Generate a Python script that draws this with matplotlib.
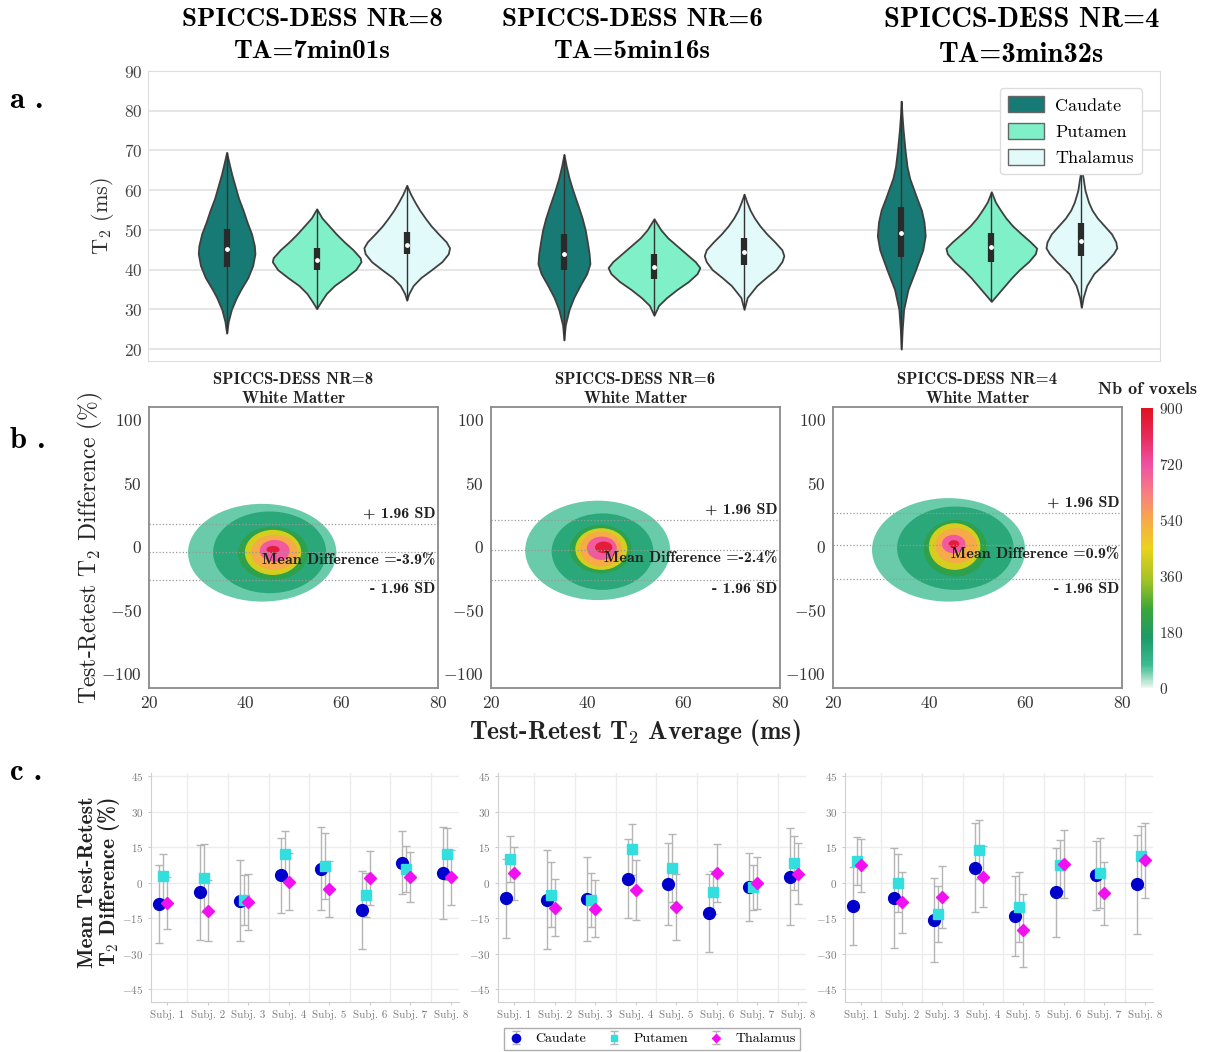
import numpy as np
import matplotlib
matplotlib.use("Agg")
import matplotlib.pyplot as plt
from matplotlib.colors import LinearSegmentedColormap, Normalize
from matplotlib.cm import ScalarMappable
from matplotlib.patches import Ellipse, Patch

plt.rcParams['font.family'] = 'cmr10'
plt.rcParams['mathtext.fontset'] = 'cm'
plt.rcParams['axes.formatter.use_mathtext'] = True
plt.rcParams['axes.unicode_minus'] = False

W, H = 1210, 1052

# ---------------- data ----------------
regions = ['Caudate', 'Putamen', 'Thalamus']
protocols = ['SPICCS-DESS NR=8', 'SPICCS-DESS NR=6', 'SPICCS-DESS NR=4']
acq_times = ['TA=7min01s', 'TA=5min16s', 'TA=3min32s']
region_colors = ['#187a74', '#80f0c8', '#e2fafa']

# violin outlines (T2 in ms, relative half width), one list per protocol NR8, NR6, NR4
caud_t2 = [[24, 27, 30, 33, 35, 38, 41, 44, 46, 49, 52, 55, 58, 61, 64, 67, 69.5],
           [22.3, 26, 30, 33, 36, 39, 41.5, 44, 47, 50, 53, 56, 60, 63, 66, 69],
           [20, 25, 30, 35, 40, 45, 48.5, 52, 55, 58, 60, 63, 66, 70, 75, 79, 82.4]]
caud_dens = [[0, 0.06, 0.17, 0.35, 0.5, 0.75, 0.92, 1.0, 0.98, 0.88, 0.72, 0.58, 0.42, 0.3, 0.18, 0.08, 0],
             [0, 0.05, 0.2, 0.38, 0.62, 0.88, 1.0, 0.97, 0.9, 0.82, 0.7, 0.55, 0.34, 0.2, 0.09, 0],
             [0, 0.04, 0.1, 0.28, 0.6, 0.9, 1.0, 0.95, 0.84, 0.65, 0.53, 0.35, 0.24, 0.16, 0.08, 0.03, 0]]
put_t2 = [[30.2, 32, 34, 36, 38, 40, 42, 43, 45, 47, 49, 51, 53, 55.3],
          [28.5, 31, 33, 35, 37, 39, 40.5, 42, 44, 46, 48, 50, 52.8],
          [32, 34, 36, 38, 40, 42, 44, 45.4, 47, 49, 51, 53, 55, 57, 59.6]]
put_dens = [[0, 0.1, 0.22, 0.4, 0.65, 0.88, 1.0, 0.98, 0.82, 0.62, 0.44, 0.28, 0.12, 0],
            [0, 0.1, 0.28, 0.5, 0.75, 0.94, 1.0, 0.9, 0.7, 0.5, 0.3, 0.15, 0],
            [0, 0.15, 0.3, 0.45, 0.62, 0.82, 0.97, 1.0, 0.86, 0.66, 0.47, 0.32, 0.2, 0.09, 0]]
thal_t2 = [[32.3, 34, 36, 38, 40, 42, 44, 45.5, 47, 49, 51, 53, 55, 57, 59, 61.2],
           [30, 33, 36, 38, 40, 42, 43.5, 45, 47, 49, 51, 53, 55, 57, 59],
           [30.5, 33, 36, 39, 42, 44, 45.5, 47, 49, 51, 53, 55, 57, 60, 63, 65.4]]
thal_dens = [[0, 0.05, 0.15, 0.33, 0.58, 0.82, 0.97, 1.0, 0.92, 0.74, 0.57, 0.43, 0.3, 0.19, 0.09, 0],
             [0, 0.08, 0.32, 0.55, 0.8, 0.95, 1.0, 0.95, 0.77, 0.57, 0.4, 0.26, 0.15, 0.07, 0],
             [0, 0.05, 0.15, 0.35, 0.7, 0.9, 1.0, 0.97, 0.85, 0.65, 0.45, 0.3, 0.2, 0.1, 0.05, 0]]
# (q1, median, q3)
caud_box = [(40.7, 45.3, 50.3), (40.0, 44.0, 49.0), (43.3, 49.2, 55.8)]
put_box = [(40.0, 42.5, 45.5), (37.7, 40.7, 44.0), (42.0, 45.7, 49.2)]
thal_box = [(44.0, 46.3, 49.5), (41.2, 44.4, 47.9), (43.4, 47.1, 51.8)]
caud_width = [0.168, 0.154, 0.142]
put_width = [0.263, 0.272, 0.269]
thal_width = [0.254, 0.236, 0.21]

# Bland-Altman lines (%)
ba_mean = [-3.9, -2.4, 0.9]
ba_hi = [17.8, 20.9, 26.7]
ba_lo = [-26.2, -26.2, -25.7]

# density blobs: voxel count level and (x_lo, x_hi, y_lo, y_hi) region above that level
blob_counts = [55, 125, 215, 420, 540, 700, 860]
nr8_blob = [(28.1, 58.9, -43.2, 33.5), (33.3, 56.8, -36.6, 27.5), (38.5, 53.0, -26.2, 15.7),
            (39.9, 51.6, -22.3, 13.1), (41.2, 50.9, -18.3, 9.2), (43.0, 49.2, -11.8, 5.2),
            (44.4, 47.1, -5.2, 0.5)]
nr6_blob = [(27.1, 57.2, -42.0, 36.0), (32.6, 53.7, -34.0, 26.0), (36.4, 49.2, -21.0, 17.0),
            (37.5, 48.3, -18.3, 14.4), (38.5, 47.2, -15.7, 11.8), (39.9, 46.1, -10.5, 7.8),
            (41.6, 45.2, -5.2, 3.9)]
nr4_blob = [(28.1, 59.9, -43.2, 38.0), (33.3, 57.5, -34.0, 31.4), (38.8, 52.0, -23.6, 20.9),
            (39.9, 50.6, -18.3, 18.3), (41.2, 49.9, -13.0, 14.4), (42.6, 47.5, -5.2, 9.2),
            (44.0, 46.2, -1.0, 5.0)]

# per subject mean test-retest difference (%) and SD
subjects = ['Subj. 1', 'Subj. 2', 'Subj. 3', 'Subj. 4', 'Subj. 5', 'Subj. 6', 'Subj. 7', 'Subj. 8']
nr8_caud_mean = [-9.1, -4.2, -7.6, 3.0, 5.9, -11.6, 8.4, 4.0]
nr8_caud_sd = [16.6, 20.2, 17.2, 15.7, 17.5, 16.3, 13.4, 19.5]
nr8_put_mean = [2.6, 1.8, -7.5, 12.0, 7.0, -5.4, 5.7, 11.9]
nr8_put_sd = [9.4, 14.4, 10.6, 9.8, 13.8, 9.3, 9.7, 11.0]
nr8_thal_mean = [-8.5, -12.0, -8.2, 0.3, -2.7, 2.0, 2.3, 2.2]
nr8_thal_sd = [11.0, 12.9, 12.0, 12.0, 11.9, 11.3, 10.7, 11.6]

nr6_caud_mean = [-6.7, -7.2, -7.0, 1.7, -0.6, -12.8, -1.8, 2.4]
nr6_caud_sd = [16.6, 21.0, 17.8, 16.7, 17.2, 16.4, 14.4, 20.5]
nr6_put_mean = [10.1, -5.1, -7.4, 14.0, 6.2, -4.1, -2.0, 8.1]
nr6_put_sd = [9.7, 13.6, 11.3, 10.9, 14.5, 9.0, 9.5, 11.4]
nr6_thal_mean = [3.9, -10.7, -11.0, -3.2, -10.4, 4.1, 0.0, 3.8]
nr6_thal_sd = [11.1, 12.0, 12.2, 12.8, 14.0, 12.3, 11.0, 12.8]

nr4_caud_mean = [-10.0, -6.5, -15.9, 6.2, -14.2, -4.1, 3.1, -0.8]
nr4_caud_sd = [16.6, 21.0, 17.9, 18.8, 16.9, 18.8, 14.6, 20.8]
nr4_put_mean = [9.0, -0.1, -13.2, 13.9, -10.4, 7.3, 4.1, 11.1]
nr4_put_sd = [10.2, 12.3, 11.9, 12.4, 14.9, 10.8, 14.8, 13.0]
nr4_thal_mean = [7.2, -8.4, -6.2, 2.4, -20.2, 7.9, -4.6, 9.4]
nr4_thal_sd = [11.2, 12.8, 13.1, 12.9, 15.3, 14.4, 13.3, 15.8]

cb_ticks = [0, 180, 360, 540, 720, 900]

# colormap of the voxel counts
cmap = LinearSegmentedColormap.from_list('voxels', [
    (0.0, '#eef7f3'), (0.03, '#a6e0c9'), (0.08, '#3dbb92'), (0.18, '#1d9a68'),
    (0.28, '#3aa63a'), (0.38, '#9ec224'), (0.5, '#ecd21c'), (0.6, '#f6aa48'),
    (0.7, '#f87c84'), (0.8, '#f050a4'), (0.9, '#e82a5c'), (1.0, '#e0121e')])
norm = Normalize(0, 900)

fig = plt.figure(figsize=(W / 100, H / 100), dpi=100)


def px_axes(left, top, right, bottom):
    return fig.add_axes([left / W, 1 - bottom / H, (right - left) / W, (bottom - top) / H])


def px_text(x, y, s, **kw):
    return fig.text(x / W, 1 - y / H, s, **kw)


# ---------------- a. violins ----------------
ax = px_axes(148, 71, 1160, 361)
offsets = [-0.267, 0, 0.267]
all_t2 = [caud_t2, put_t2, thal_t2]
all_dens = [caud_dens, put_dens, thal_dens]
all_box = [caud_box, put_box, thal_box]
all_width = [caud_width, put_width, thal_width]
for r in range(3):
    for p in range(3):
        pos = p + offsets[r]
        t2 = np.array(all_t2[r][p], dtype=float)
        q1, med, q3 = all_box[r][p]
        stats = dict(coords=t2, vals=np.array(all_dens[r][p], dtype=float),
                     mean=med, median=med, min=t2.min(), max=t2.max())
        parts = ax.violin([stats], positions=[pos], widths=[all_width[r][p]],
                          showmeans=False, showextrema=False, showmedians=False)
        for b in parts['bodies']:
            b.set_facecolor(region_colors[r])
            b.set_edgecolor('#404040')
            b.set_linewidth(1.3)
            b.set_alpha(1)
            b.set_zorder(2)
        ax.vlines(pos, t2.min(), t2.max(), color='#333333', lw=1, zorder=3)
        ax.vlines(pos, q1, q3, color='#2a2a2a', lw=4.5, zorder=3)
        ax.scatter([pos], [med], s=6, color='white', zorder=4)

ax.set_xlim(-0.5, 2.5)
ax.set_ylim(17, 90)
ax.set_yticks(range(20, 91, 10))
ax.set_xticks([])
ax.yaxis.grid(True, color='#e4e4e4', lw=1.3)
ax.set_axisbelow(True)
for s in ax.spines.values():
    s.set_color('#dddddd')
ax.tick_params(axis='y', length=0, labelsize=12.5, labelcolor='#444444', pad=4)
ax.set_ylabel('T$_2$ (ms)', fontsize=16, color='#333333', labelpad=6)
handles = [Patch(facecolor=c, edgecolor='#666666', label=l) for c, l in zip(region_colors, regions)]
ax.legend(handles=handles, loc='upper right', bbox_to_anchor=(0.991, 0.972), fontsize=13,
          handlelength=2.0, handleheight=1.0, labelspacing=0.5, borderpad=0.45,
          handletextpad=0.6, edgecolor='#dddddd', framealpha=1)

title_x = [312, 632, 1022]
title_size = [19.5, 19.5, 20.5]
title_y2 = [52, 52, 55]
for p in range(3):
    px_text(title_x[p], 20, protocols[p], fontfamily='cmb10', fontsize=title_size[p], ha='center', va='center')
    px_text(title_x[p], title_y2[p], acq_times[p], fontfamily='cmb10', fontsize=title_size[p], ha='center', va='center')

# ---------------- b. Bland-Altman density ----------------
b_left = [149, 491, 833]
blobs = [nr8_blob, nr6_blob, nr4_blob]
for p in range(3):
    bx = px_axes(b_left[p], 407, b_left[p] + 289, 688)
    for lvl, (x0, x1, y0, y1) in zip(blob_counts, blobs[p]):
        bx.add_patch(Ellipse(((x0 + x1) / 2, (y0 + y1) / 2), x1 - x0, y1 - y0,
                             facecolor=cmap(norm(lvl)), edgecolor='none', zorder=1))
    for yv in (ba_hi[p], ba_mean[p], ba_lo[p]):
        bx.axhline(yv, color='#999999', ls=':', lw=0.9, zorder=2)
    bx.text(79.5, ba_hi[p] + 8, '+ 1.96 SD', fontfamily='cmb10', fontsize=11.5, ha='right', va='center', color='#222222')
    bx.text(79.5, ba_mean[p] - 6.5, 'Mean Difference =%.1f%%' % ba_mean[p], fontfamily='cmb10',
            fontsize=11.5, ha='right', va='center', color='#222222', zorder=3)
    bx.text(79.5, ba_lo[p] - 7.5, '- 1.96 SD', fontfamily='cmb10', fontsize=11.5, ha='right', va='center', color='#222222')
    bx.set_xlim(20, 80)
    bx.set_ylim(-111, 109.5)
    bx.set_xticks([20, 40, 60, 80])
    bx.set_yticks([-100, -50, 0, 50, 100])
    for s in bx.spines.values():
        s.set_color('#8a8a8a')
        s.set_linewidth(1.3)
    bx.tick_params(length=0, labelsize=12.5, labelcolor='#333333', pad=5)
    bx.set_title(protocols[p] + '\nWhite Matter', fontfamily='cmb10', fontsize=12, pad=3,
                 linespacing=1.3, color='#222222')

px_text(90, 548, 'Test-Retest T$_2$ Difference (%)', fontsize=17, rotation=90,
        ha='center', va='center', color='#222222')

cax = px_axes(1141, 408, 1153, 688)
cb = fig.colorbar(ScalarMappable(norm=norm, cmap=cmap), cax=cax, ticks=cb_ticks)
cb.outline.set_visible(False)
cax.tick_params(length=0, labelsize=11, labelcolor='#333333', pad=4)
px_text(1148, 390, 'Nb of voxels', fontfamily='cmb10', fontsize=13, ha='center', va='center', color='#222222')
px_text(635, 733, 'Test-Retest T$_2$ Average (ms)', fontfamily='cmb10', fontsize=18.5, ha='center', va='center', color='#222222')

# ---------------- c. per subject ----------------
c_left = [151, 498, 845]
means = [(nr8_caud_mean, nr8_put_mean, nr8_thal_mean),
         (nr6_caud_mean, nr6_put_mean, nr6_thal_mean),
         (nr4_caud_mean, nr4_put_mean, nr4_thal_mean)]
sds = [(nr8_caud_sd, nr8_put_sd, nr8_thal_sd),
       (nr6_caud_sd, nr6_put_sd, nr6_thal_sd),
       (nr4_caud_sd, nr4_put_sd, nr4_thal_sd)]
mk_style = [dict(fmt='o', color='#0000cc', ms=8.5, shift=-0.2),
            dict(fmt='s', color='#33dede', ms=7, shift=-0.1),
            dict(fmt='D', color='#f010f0', ms=6.5, shift=0.0)]
xs = np.arange(1, len(subjects) + 1)
legend_handles = []
for p in range(3):
    cx = px_axes(c_left[p], 773, c_left[p] + 308, 1002)
    for r in range(3):
        st = mk_style[r]
        h = cx.errorbar(xs + st['shift'], means[p][r], yerr=sds[p][r], fmt=st['fmt'],
                        ms=st['ms'], mfc=st['color'], mec=st['color'], ecolor='#b5b5b5',
                        elinewidth=1, capsize=3, capthick=1, zorder=3)
        if p == 0:
            legend_handles.append(h)
    cx.set_xlim(0.6, 8.2)
    cx.set_ylim(-50.5, 46.3)
    cx.set_yticks(range(-45, 46, 15))
    cx.set_xticks(xs)
    cx.set_xticklabels(subjects)
    cx.set_xticks(xs[:-1] + 0.5, minor=True)
    cx.grid(which='minor', axis='x', color='#ececec', lw=1)
    cx.grid(which='major', axis='y', color='#ececec', lw=1)
    cx.set_axisbelow(True)
    cx.spines['top'].set_visible(False)
    cx.spines['right'].set_visible(False)
    cx.spines['left'].set_color('#d0d0d0')
    cx.spines['bottom'].set_color('#d0d0d0')
    cx.tick_params(which='major', length=2.5, color='#cccccc', labelsize=8, labelcolor='#7a7a7a', pad=3)
    cx.tick_params(which='minor', length=0)

px_text(100, 882, 'Mean Test-Retest\nT$_2$ Difference (%)', fontfamily='cmb10', fontsize=15.5,
        rotation=90, ha='center', va='center', color='#222222', linespacing=0.9)
fig.legend(legend_handles, regions, ncol=3, loc='center', bbox_to_anchor=(652 / W, 1 - 1039 / H),
           fontsize=10, frameon=True, edgecolor='#999999', fancybox=False, markerscale=0.7,
           handlelength=1.2, columnspacing=1.4, borderpad=0.3)

# panel letters
for letter, y in zip(['a .', 'b .', 'c .'], [100, 440, 772]):
    px_text(10, y, letter, fontfamily='cmb10', fontsize=22, ha='left', va='center')

fig.savefig('out.png', dpi=100, facecolor='white')
